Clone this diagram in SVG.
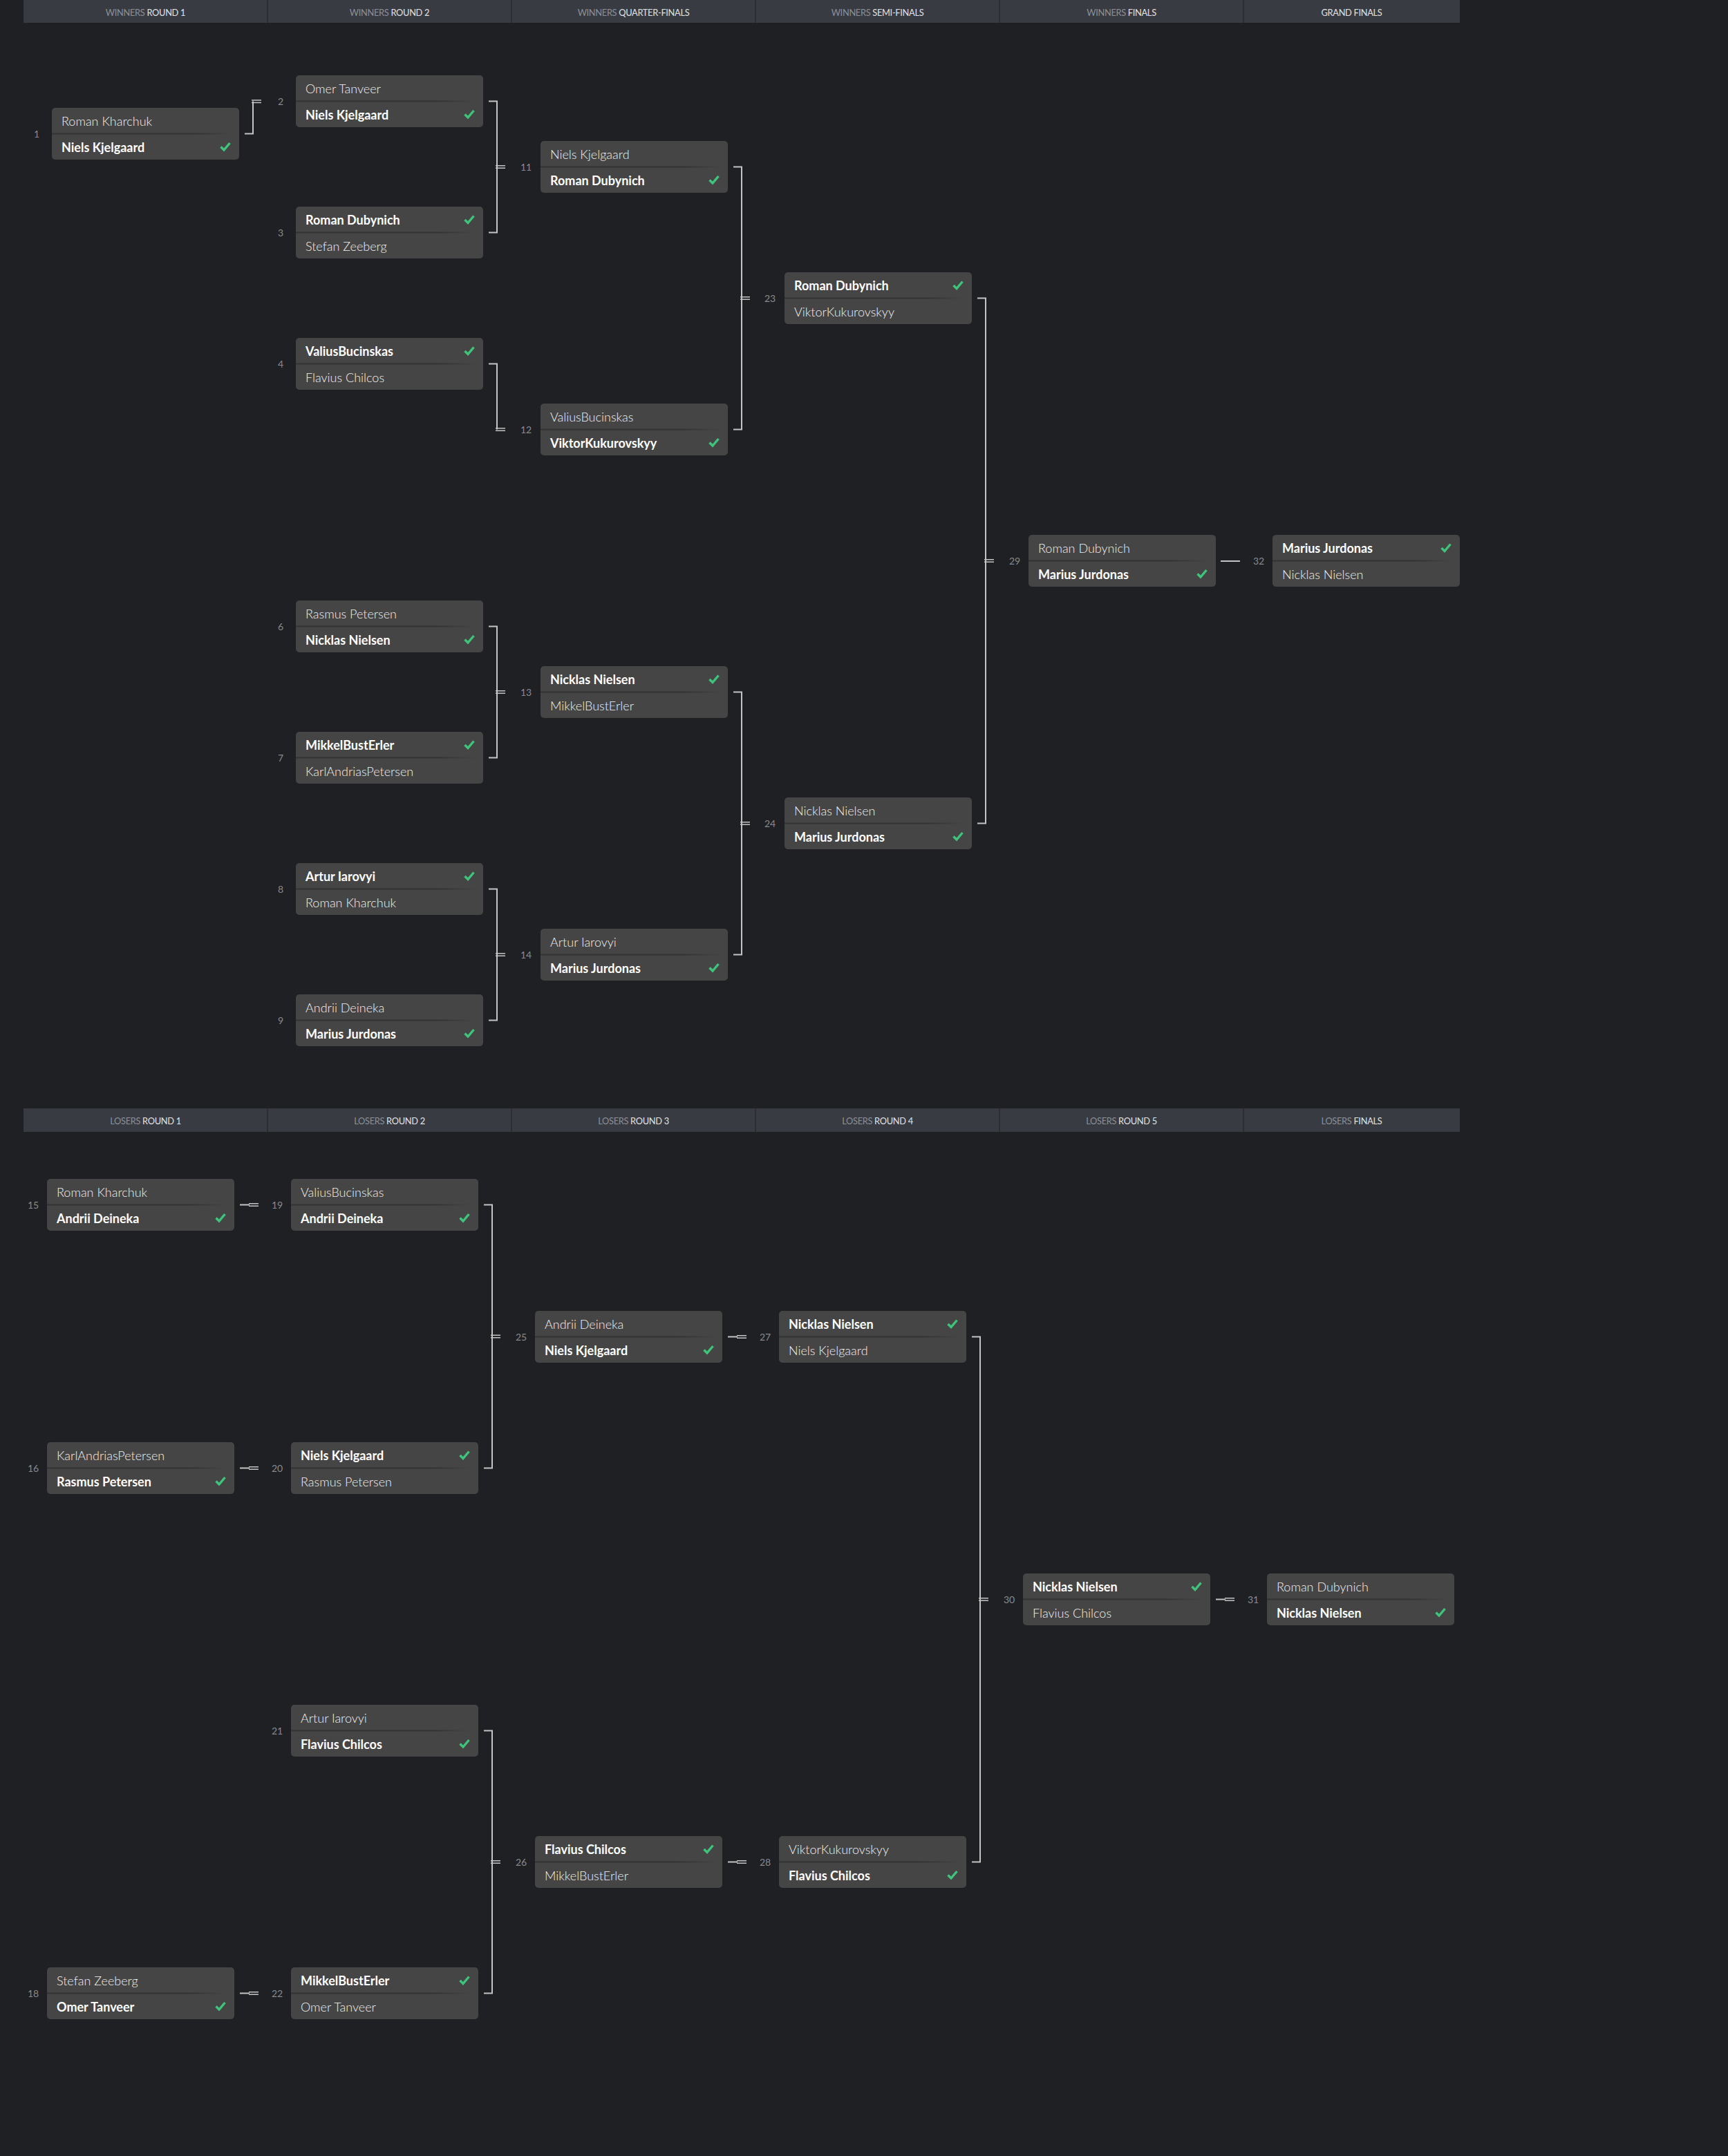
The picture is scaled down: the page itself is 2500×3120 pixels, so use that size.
<svg xmlns="http://www.w3.org/2000/svg" xmlns:xlink="http://www.w3.org/1999/xlink" width="2500" height="3120" viewBox="0 0 2500 3120">
<style>
.bg{fill:#1f2024}
.hdr{fill:#383b42}
.hdiv{stroke:#2c2e34;stroke-width:2}
.ht{font-family:Lato,"Liberation Sans",sans-serif;font-size:12.8px;letter-spacing:-0.3px;text-anchor:middle}
.htl{fill:#8c9098}
.htb{fill:#e0e2e5}
.box{fill:#454545}
.nm{font-family:Lato,"Liberation Sans",sans-serif;font-size:18px}
.w{fill:#ffffff;font-weight:700}
.l{fill:#f0f0f0;font-weight:300}
.num{font-family:Lato,"Liberation Sans",sans-serif;font-size:14px;fill:#888a8f;text-anchor:middle}
.chk{fill:none;stroke:#3fc47c;stroke-width:3.4;stroke-linecap:butt;stroke-linejoin:miter}
.con{fill:none;stroke:#c4c4c4;stroke-width:2}
.eq{fill:none;stroke:#c4c4c4;stroke-width:1.5}
</style>
<defs>
<linearGradient id="sepg" x1="0" y1="0" x2="1" y2="0">
<stop offset="0" stop-color="#333333"/>
<stop offset="0.8" stop-color="#333333"/>
<stop offset="1" stop-color="#333333" stop-opacity="0"/>
</linearGradient>
<path id="chk" d="M-6.5,0.5 L-2,5 L6.5,-5"/>
<g id="card">
<rect class="box" x="0" y="0" width="271" height="75" rx="5"/>
<rect x="0" y="36.5" width="260" height="2" fill="url(#sepg)"/>
</g>
</defs>
<rect class="bg" x="0" y="0" width="2500" height="3120"/>

<g id="hdr-winners">
<rect class="hdr" x="34" y="0" width="2078" height="33"/>
<path class="hdiv" d="M387,0V33M740,0V33M1093,0V33M1446,0V33M1799,0V33"/>
<text class="ht" x="210.5" y="22.5"><tspan class="htl">WINNERS </tspan><tspan class="htb">ROUND 1</tspan></text>
<text class="ht" x="563.5" y="22.5"><tspan class="htl">WINNERS </tspan><tspan class="htb">ROUND 2</tspan></text>
<text class="ht" x="916.5" y="22.5"><tspan class="htl">WINNERS </tspan><tspan class="htb">QUARTER-FINALS</tspan></text>
<text class="ht" x="1269.5" y="22.5"><tspan class="htl">WINNERS </tspan><tspan class="htb">SEMI-FINALS</tspan></text>
<text class="ht" x="1622.5" y="22.5"><tspan class="htl">WINNERS </tspan><tspan class="htb">FINALS</tspan></text>
<text class="ht" x="1955.5" y="22.5"><tspan class="htb">GRAND FINALS</tspan></text>
</g>

<g id="hdr-losers">
<rect class="hdr" x="34" y="1604" width="2078" height="34"/>
<path class="hdiv" d="M387,1604V1638M740,1604V1638M1093,1604V1638M1446,1604V1638M1799,1604V1638"/>
<text class="ht" x="210.5" y="1627"><tspan class="htl">LOSERS </tspan><tspan class="htb">ROUND 1</tspan></text>
<text class="ht" x="563.5" y="1627"><tspan class="htl">LOSERS </tspan><tspan class="htb">ROUND 2</tspan></text>
<text class="ht" x="916.5" y="1627"><tspan class="htl">LOSERS </tspan><tspan class="htb">ROUND 3</tspan></text>
<text class="ht" x="1269.5" y="1627"><tspan class="htl">LOSERS </tspan><tspan class="htb">ROUND 4</tspan></text>
<text class="ht" x="1622.5" y="1627"><tspan class="htl">LOSERS </tspan><tspan class="htb">ROUND 5</tspan></text>
<text class="ht" x="1955.5" y="1627"><tspan class="htl">LOSERS </tspan><tspan class="htb">FINALS</tspan></text>
</g>

<g id="connectors">
<path class="con" d="M354,193.5H366V146.5"/>
<path class="eq" d="M364,145H378M364,148.5H378"/>
<path class="con" d="M707,146.5H719V336.5H707"/>
<path class="eq" d="M717,239.8H731M717,243.3H731"/>
<path class="con" d="M707,526.5H719V621.5"/>
<path class="eq" d="M717,619.8H731M717,623.3H731"/>
<path class="con" d="M707,906.5H719V1096.5H707"/>
<path class="eq" d="M717,999.8H731M717,1003.3H731"/>
<path class="con" d="M707,1286.5H719V1476.5H707"/>
<path class="eq" d="M717,1379.8H731M717,1383.3H731"/>
<path class="con" d="M1061,241.5H1073V621.5H1061"/>
<path class="eq" d="M1071,429.8H1085M1071,433.3H1085"/>
<path class="con" d="M1061,1001.5H1073V1381.5H1061"/>
<path class="eq" d="M1071,1189.8H1085M1071,1193.3H1085"/>
<path class="con" d="M1414,431.5H1426V1191.5H1414"/>
<path class="eq" d="M1424,809.8H1438M1424,813.3H1438"/>
<path class="con" d="M1766,812H1794"/>

<path class="con" d="M347,1743.5H361"/>
<path class="eq" d="M360,1741.8H374M360,1745.3H374"/>
<path class="con" d="M347,2124.5H361"/>
<path class="eq" d="M360,2122.8H374M360,2126.3H374"/>
<path class="con" d="M347,2884.5H361"/>
<path class="eq" d="M360,2882.8H374M360,2886.3H374"/>
<path class="con" d="M700,1743.5H712V2124.5H700"/>
<path class="eq" d="M710,1932.3H724M710,1935.8H724"/>
<path class="con" d="M700,2504.5H712V2884.5H700"/>
<path class="eq" d="M710,2692.8H724M710,2696.3H724"/>
<path class="con" d="M1053,1934.5H1067"/>
<path class="eq" d="M1066,1932.8H1080M1066,1936.3H1080"/>
<path class="con" d="M1053,2694.5H1067"/>
<path class="eq" d="M1066,2692.8H1080M1066,2696.3H1080"/>
<path class="con" d="M1406,1934.5H1418V2694.5H1406"/>
<path class="eq" d="M1416,2312.8H1430M1416,2316.3H1430"/>
<path class="con" d="M1759,2314.5H1773"/>
<path class="eq" d="M1772,2312.8H1786M1772,2316.3H1786"/>
</g>

<g id="m1" transform="translate(75,156)"><use xlink:href="#card"/><text class="num" x="-22" y="42.5">1</text><text class="nm l" x="14" y="26">Roman Kharchuk</text><text class="nm w" x="14" y="63.5">Niels Kjelgaard</text><use xlink:href="#chk" class="chk" x="251" y="56"/></g>
<g id="m2" transform="translate(428,109)"><use xlink:href="#card"/><text class="num" x="-22" y="42.5">2</text><text class="nm l" x="14" y="26">Omer Tanveer</text><text class="nm w" x="14" y="63.5">Niels Kjelgaard</text><use xlink:href="#chk" class="chk" x="251" y="56"/></g>
<g id="m3" transform="translate(428,299)"><use xlink:href="#card"/><text class="num" x="-22" y="42.5">3</text><text class="nm w" x="14" y="26">Roman Dubynich</text><use xlink:href="#chk" class="chk" x="251" y="18.5"/><text class="nm l" x="14" y="63.5">Stefan Zeeberg</text></g>
<g id="m4" transform="translate(428,489)"><use xlink:href="#card"/><text class="num" x="-22" y="42.5">4</text><text class="nm w" x="14" y="26">ValiusBucinskas</text><use xlink:href="#chk" class="chk" x="251" y="18.5"/><text class="nm l" x="14" y="63.5">Flavius Chilcos</text></g>
<g id="m6" transform="translate(428,869)"><use xlink:href="#card"/><text class="num" x="-22" y="42.5">6</text><text class="nm l" x="14" y="26">Rasmus Petersen</text><text class="nm w" x="14" y="63.5">Nicklas Nielsen</text><use xlink:href="#chk" class="chk" x="251" y="56"/></g>
<g id="m7" transform="translate(428,1059)"><use xlink:href="#card"/><text class="num" x="-22" y="42.5">7</text><text class="nm w" x="14" y="26">MikkelBustErler</text><use xlink:href="#chk" class="chk" x="251" y="18.5"/><text class="nm l" x="14" y="63.5">KarlAndriasPetersen</text></g>
<g id="m8" transform="translate(428,1249)"><use xlink:href="#card"/><text class="num" x="-22" y="42.5">8</text><text class="nm w" x="14" y="26">Artur Iarovyi</text><use xlink:href="#chk" class="chk" x="251" y="18.5"/><text class="nm l" x="14" y="63.5">Roman Kharchuk</text></g>
<g id="m9" transform="translate(428,1439)"><use xlink:href="#card"/><text class="num" x="-22" y="42.5">9</text><text class="nm l" x="14" y="26">Andrii Deineka</text><text class="nm w" x="14" y="63.5">Marius Jurdonas</text><use xlink:href="#chk" class="chk" x="251" y="56"/></g>
<g id="m11" transform="translate(782,204)"><use xlink:href="#card"/><text class="num" x="-21" y="42.5">11</text><text class="nm l" x="14" y="26">Niels Kjelgaard</text><text class="nm w" x="14" y="63.5">Roman Dubynich</text><use xlink:href="#chk" class="chk" x="251" y="56"/></g>
<g id="m12" transform="translate(782,584)"><use xlink:href="#card"/><text class="num" x="-21" y="42.5">12</text><text class="nm l" x="14" y="26">ValiusBucinskas</text><text class="nm w" x="14" y="63.5">ViktorKukurovskyy</text><use xlink:href="#chk" class="chk" x="251" y="56"/></g>
<g id="m13" transform="translate(782,964)"><use xlink:href="#card"/><text class="num" x="-21" y="42.5">13</text><text class="nm w" x="14" y="26">Nicklas Nielsen</text><use xlink:href="#chk" class="chk" x="251" y="18.5"/><text class="nm l" x="14" y="63.5">MikkelBustErler</text></g>
<g id="m14" transform="translate(782,1344)"><use xlink:href="#card"/><text class="num" x="-21" y="42.5">14</text><text class="nm l" x="14" y="26">Artur Iarovyi</text><text class="nm w" x="14" y="63.5">Marius Jurdonas</text><use xlink:href="#chk" class="chk" x="251" y="56"/></g>
<g id="m23" transform="translate(1135,394)"><use xlink:href="#card"/><text class="num" x="-21" y="42.5">23</text><text class="nm w" x="14" y="26">Roman Dubynich</text><use xlink:href="#chk" class="chk" x="251" y="18.5"/><text class="nm l" x="14" y="63.5">ViktorKukurovskyy</text></g>
<g id="m24" transform="translate(1135,1154)"><use xlink:href="#card"/><text class="num" x="-21" y="42.5">24</text><text class="nm l" x="14" y="26">Nicklas Nielsen</text><text class="nm w" x="14" y="63.5">Marius Jurdonas</text><use xlink:href="#chk" class="chk" x="251" y="56"/></g>
<g id="m29" transform="translate(1488,774)"><use xlink:href="#card"/><text class="num" x="-20" y="42.5">29</text><text class="nm l" x="14" y="26">Roman Dubynich</text><text class="nm w" x="14" y="63.5">Marius Jurdonas</text><use xlink:href="#chk" class="chk" x="251" y="56"/></g>
<g id="m32" transform="translate(1841,774)"><use xlink:href="#card"/><text class="num" x="-20" y="42.5">32</text><text class="nm w" x="14" y="26">Marius Jurdonas</text><use xlink:href="#chk" class="chk" x="251" y="18.5"/><text class="nm l" x="14" y="63.5">Nicklas Nielsen</text></g>

<g id="m15" transform="translate(68,1706)"><use xlink:href="#card"/><text class="num" x="-20" y="42.5">15</text><text class="nm l" x="14" y="26">Roman Kharchuk</text><text class="nm w" x="14" y="63.5">Andrii Deineka</text><use xlink:href="#chk" class="chk" x="251" y="56"/></g>
<g id="m16" transform="translate(68,2087)"><use xlink:href="#card"/><text class="num" x="-20" y="42.5">16</text><text class="nm l" x="14" y="26">KarlAndriasPetersen</text><text class="nm w" x="14" y="63.5">Rasmus Petersen</text><use xlink:href="#chk" class="chk" x="251" y="56"/></g>
<g id="m18" transform="translate(68,2847)"><use xlink:href="#card"/><text class="num" x="-20" y="42.5">18</text><text class="nm l" x="14" y="26">Stefan Zeeberg</text><text class="nm w" x="14" y="63.5">Omer Tanveer</text><use xlink:href="#chk" class="chk" x="251" y="56"/></g>
<g id="m19" transform="translate(421,1706)"><use xlink:href="#card"/><text class="num" x="-20" y="42.5">19</text><text class="nm l" x="14" y="26">ValiusBucinskas</text><text class="nm w" x="14" y="63.5">Andrii Deineka</text><use xlink:href="#chk" class="chk" x="251" y="56"/></g>
<g id="m20" transform="translate(421,2087)"><use xlink:href="#card"/><text class="num" x="-20" y="42.5">20</text><text class="nm w" x="14" y="26">Niels Kjelgaard</text><use xlink:href="#chk" class="chk" x="251" y="18.5"/><text class="nm l" x="14" y="63.5">Rasmus Petersen</text></g>
<g id="m21" transform="translate(421,2467)"><use xlink:href="#card"/><text class="num" x="-20" y="42.5">21</text><text class="nm l" x="14" y="26">Artur Iarovyi</text><text class="nm w" x="14" y="63.5">Flavius Chilcos</text><use xlink:href="#chk" class="chk" x="251" y="56"/></g>
<g id="m22" transform="translate(421,2847)"><use xlink:href="#card"/><text class="num" x="-20" y="42.5">22</text><text class="nm w" x="14" y="26">MikkelBustErler</text><use xlink:href="#chk" class="chk" x="251" y="18.5"/><text class="nm l" x="14" y="63.5">Omer Tanveer</text></g>
<g id="m25" transform="translate(774,1897)"><use xlink:href="#card"/><text class="num" x="-20" y="42.5">25</text><text class="nm l" x="14" y="26">Andrii Deineka</text><text class="nm w" x="14" y="63.5">Niels Kjelgaard</text><use xlink:href="#chk" class="chk" x="251" y="56"/></g>
<g id="m26" transform="translate(774,2657)"><use xlink:href="#card"/><text class="num" x="-20" y="42.5">26</text><text class="nm w" x="14" y="26">Flavius Chilcos</text><use xlink:href="#chk" class="chk" x="251" y="18.5"/><text class="nm l" x="14" y="63.5">MikkelBustErler</text></g>
<g id="m27" transform="translate(1127,1897)"><use xlink:href="#card"/><text class="num" x="-20" y="42.5">27</text><text class="nm w" x="14" y="26">Nicklas Nielsen</text><use xlink:href="#chk" class="chk" x="251" y="18.5"/><text class="nm l" x="14" y="63.5">Niels Kjelgaard</text></g>
<g id="m28" transform="translate(1127,2657)"><use xlink:href="#card"/><text class="num" x="-20" y="42.5">28</text><text class="nm l" x="14" y="26">ViktorKukurovskyy</text><text class="nm w" x="14" y="63.5">Flavius Chilcos</text><use xlink:href="#chk" class="chk" x="251" y="56"/></g>
<g id="m30" transform="translate(1480,2277)"><use xlink:href="#card"/><text class="num" x="-20" y="42.5">30</text><text class="nm w" x="14" y="26">Nicklas Nielsen</text><use xlink:href="#chk" class="chk" x="251" y="18.5"/><text class="nm l" x="14" y="63.5">Flavius Chilcos</text></g>
<g id="m31" transform="translate(1833,2277)"><use xlink:href="#card"/><text class="num" x="-20" y="42.5">31</text><text class="nm l" x="14" y="26">Roman Dubynich</text><text class="nm w" x="14" y="63.5">Nicklas Nielsen</text><use xlink:href="#chk" class="chk" x="251" y="56"/></g>
</svg>
